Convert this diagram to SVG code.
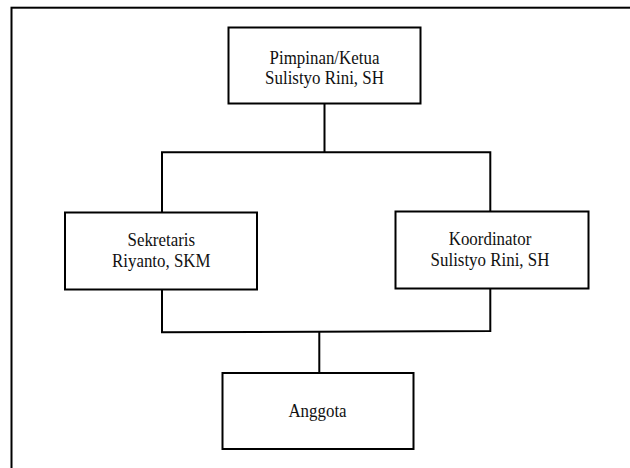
<svg xmlns="http://www.w3.org/2000/svg" width="630" height="468" viewBox="0 0 630 468">
<style>
.box{fill:#fff;stroke:#000;stroke-width:2}
.frame{fill:#fff;stroke:#000;stroke-width:2}
.conn{fill:none;stroke:#000;stroke-width:2}
text{font-family:'Liberation Serif','DejaVu Serif',serif;font-size:19px;fill:#111;text-anchor:middle}
</style>
<rect width="630" height="468" fill="#fff"/>
<rect class="frame" x="11.5" y="7.7" width="640" height="480"/>
<g id="connectors">
<path class="conn" d="M324.5 103.5 V152.3 M162 212.5 V152.3 H490.3 V211.5"/>
<path class="conn" d="M162 289.5 V332.3 L490.3 331 V288.5 M319.3 331.7 V373"/>
</g>
<g id="pimpinan" font-family="Liberation Serif, serif">
<rect class="box" x="228.5" y="27.5" width="192" height="76"/>
<text transform="translate(324.5 64) scale(0.89 1)">Pimpinan/Ketua</text>
<text transform="translate(324.5 84) scale(0.89 1)">Sulistyo Rini, SH</text>
</g>
<g id="sekretaris">
<rect class="box" x="65" y="212.5" width="192" height="77"/>
<text transform="translate(161.3 246) scale(0.89 1)">Sekretaris</text>
<text transform="translate(161.3 266.5) scale(0.89 1)">Riyanto, SKM</text>
</g>
<g id="koordinator">
<rect class="box" x="395.5" y="211.5" width="193" height="77"/>
<text transform="translate(490 245) scale(0.89 1)">Koordinator</text>
<text transform="translate(490 265.5) scale(0.89 1)">Sulistyo Rini, SH</text>
</g>
<g id="anggota">
<rect class="box" x="222.5" y="373" width="191" height="76"/>
<text transform="translate(317.5 416.5) scale(0.89 1)">Anggota</text>
</g>
</svg>
